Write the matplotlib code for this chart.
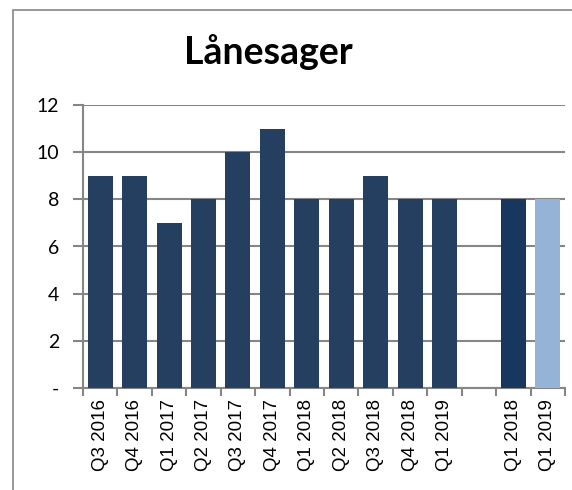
import matplotlib
matplotlib.use("Agg")
import matplotlib.pyplot as plt
import numpy as np
from matplotlib.patches import Rectangle

categories = ["Q3 2016", "Q4 2016", "Q1 2017", "Q2 2017", "Q3 2017", "Q4 2017",
              "Q1 2018", "Q2 2018", "Q3 2018", "Q4 2018", "Q1 2019", "",
              "Q1 2018", "Q1 2019"]
values = [9, 9, 7, 8, 10, 11, 8, 8, 9, 8, 8, np.nan, 8, 8]
colors = ["#243F60"] * 11 + ["#FFFFFF", "#17375E", "#95B3D7"]
yticks = [0, 2, 4, 6, 8, 10, 12]
ylabels = ["-", "2", "4", "6", "8", "10", "12"]

W, H = 572, 490
fig = plt.figure(figsize=(W / 100, H / 100), dpi=100)
fig.patch.set_facecolor("white")

# outer chart frame
fig.patches.append(Rectangle((13 / W, -0.1), 1.2, (H - 10) / H + 0.1,
                             transform=fig.transFigure, fill=False,
                             edgecolor="#868686", linewidth=1.2))

ax = fig.add_axes([83 / W, 102 / H, (565 - 83) / W, (388 - 105) / H])
x = np.arange(len(categories))
ax.bar(x, np.nan_to_num(values), width=0.73, color=colors, zorder=3)

ax.set_xlim(-0.5, len(categories) - 0.5)
ax.set_ylim(0, 12)
ax.set_yticks(yticks)
ax.set_yticklabels(ylabels, fontsize=14, family="Lato")
ax.set_xticks(x)
ax.set_xticklabels(categories, rotation=90, fontsize=13.5, family="Liberation Sans")
ax.tick_params(axis="x", length=0, pad=8)
ax.set_xticks(np.arange(-0.5, len(categories)), minor=True)
ax.tick_params(axis="x", which="minor", length=6, width=1.5, color="#868686")
ax.tick_params(axis="y", length=7, width=1.5, color="#868686", pad=10)

ax.yaxis.grid(True, color="#868686", linewidth=1.5, zorder=0)
for s in ["top", "right"]:
    ax.spines[s].set_visible(False)
for s in ["left", "bottom"]:
    ax.spines[s].set_color("#868686")
    ax.spines[s].set_linewidth(1.5)

fig.text(268 / W, 1 - 52 / H, "Lånesager", ha="center", va="center",
         fontsize=27, fontweight="bold", family="Lato")

fig.savefig("out.png", dpi=100)
